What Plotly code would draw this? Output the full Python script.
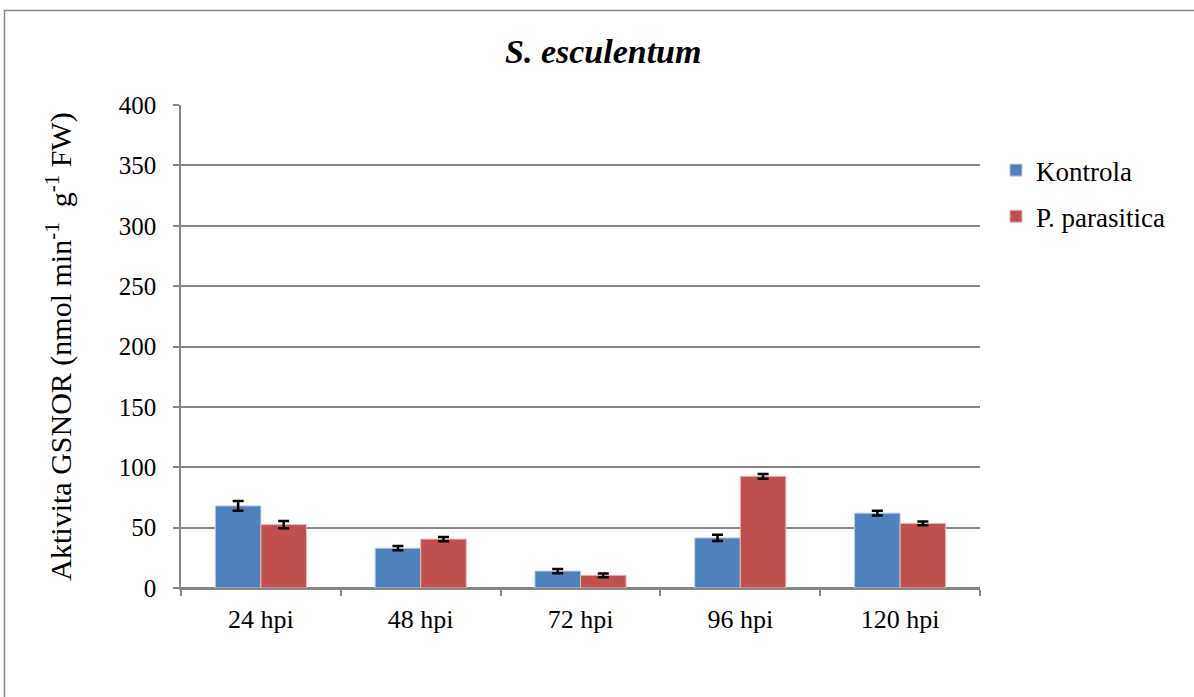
import plotly.graph_objects as go

categories = ["24 hpi", "48 hpi", "72 hpi", "96 hpi", "120 hpi"]
kontrola = [68, 33, 14, 41.5, 62]
kontrola_err = [4, 1.7, 1.7, 2.5, 2]
parasitica = [52.5, 40.5, 10.5, 92.5, 53.5]
parasitica_err = [3, 1.8, 1.5, 2, 1.5]
y_ticks = [0, 50, 100, 150, 200, 250, 300, 350, 400]

FONT = "Liberation Serif, Times New Roman, serif"
GRID = "#868686"

fig = go.Figure()
fig.add_trace(go.Bar(
    x=categories, y=kontrola, name="Kontrola", legendgroup="a",
    marker=dict(color="#4F81BD", line=dict(color="#B9CDE5", width=1)),
    error_y=dict(type="data", array=kontrola_err, color="black", thickness=2.5, width=5.5),
))
fig.add_trace(go.Bar(
    x=categories, y=parasitica, name="P. parasitica", legendgroup="b",
    marker=dict(color="#C0504D", line=dict(color="#E6B9B8", width=1)),
    error_y=dict(type="data", array=parasitica_err, color="black", thickness=2.5, width=5.5),
))

fig.update_layout(
    width=1194, height=697,
    margin=dict(l=181, r=214, t=105, b=109),
    paper_bgcolor="white", plot_bgcolor="white",
    font=dict(family=FONT, color="black", size=25),
    barmode="group", bargap=0.43, bargroupgap=0,
    showlegend=True,
    legend=dict(x=1.02, y=0.915, xanchor="left", yanchor="top", itemwidth=30,
                font=dict(size=27, family=FONT), traceorder="grouped",
                tracegroupgap=8, bgcolor="rgba(0,0,0,0)"),
    annotations=[dict(text="<b><i>S. esculentum</i></b>", xref="paper", yref="paper",
                      x=0.528, y=1.11, xanchor="center", yanchor="middle",
                      showarrow=False, font=dict(size=34, family=FONT))],
    shapes=[dict(type="rect", xref="paper", yref="paper",
                 x0=(4.5 - 181) / 799, x1=1.4, y0=-0.4, y1=(588 - 10.5) / 483,
                 line=dict(color=GRID, width=1.5), fillcolor="rgba(0,0,0,0)", layer="below")],
)
fig.update_xaxes(
    showline=True, linecolor=GRID, linewidth=1.5,
    ticks="outside", tickson="boundaries", ticklen=6, tickcolor=GRID, tickwidth=1.5,
    tickfont=dict(size=26, family=FONT), ticklabelstandoff=7,
    showgrid=False,
)
fig.update_yaxes(
    range=[0, 400], tickvals=y_ticks,
    showline=True, linecolor=GRID, linewidth=1.5,
    ticks="outside", ticklen=6, tickcolor=GRID, tickwidth=1.5,
    showgrid=True, gridcolor=GRID, gridwidth=1.5,
    zeroline=True, zerolinecolor=GRID, zerolinewidth=1.5,
    tickfont=dict(size=25, family=FONT), ticklabelstandoff=12,
    title=dict(text="Aktivita GSNOR (nmol min<sup>-1</sup>  g<sup>-1</sup> FW)",
               font=dict(size=30, family=FONT), standoff=38),
)

fig.write_html("out.html", config={"displayModeBar": False},
               post_script="document.body.style.margin='0';")
